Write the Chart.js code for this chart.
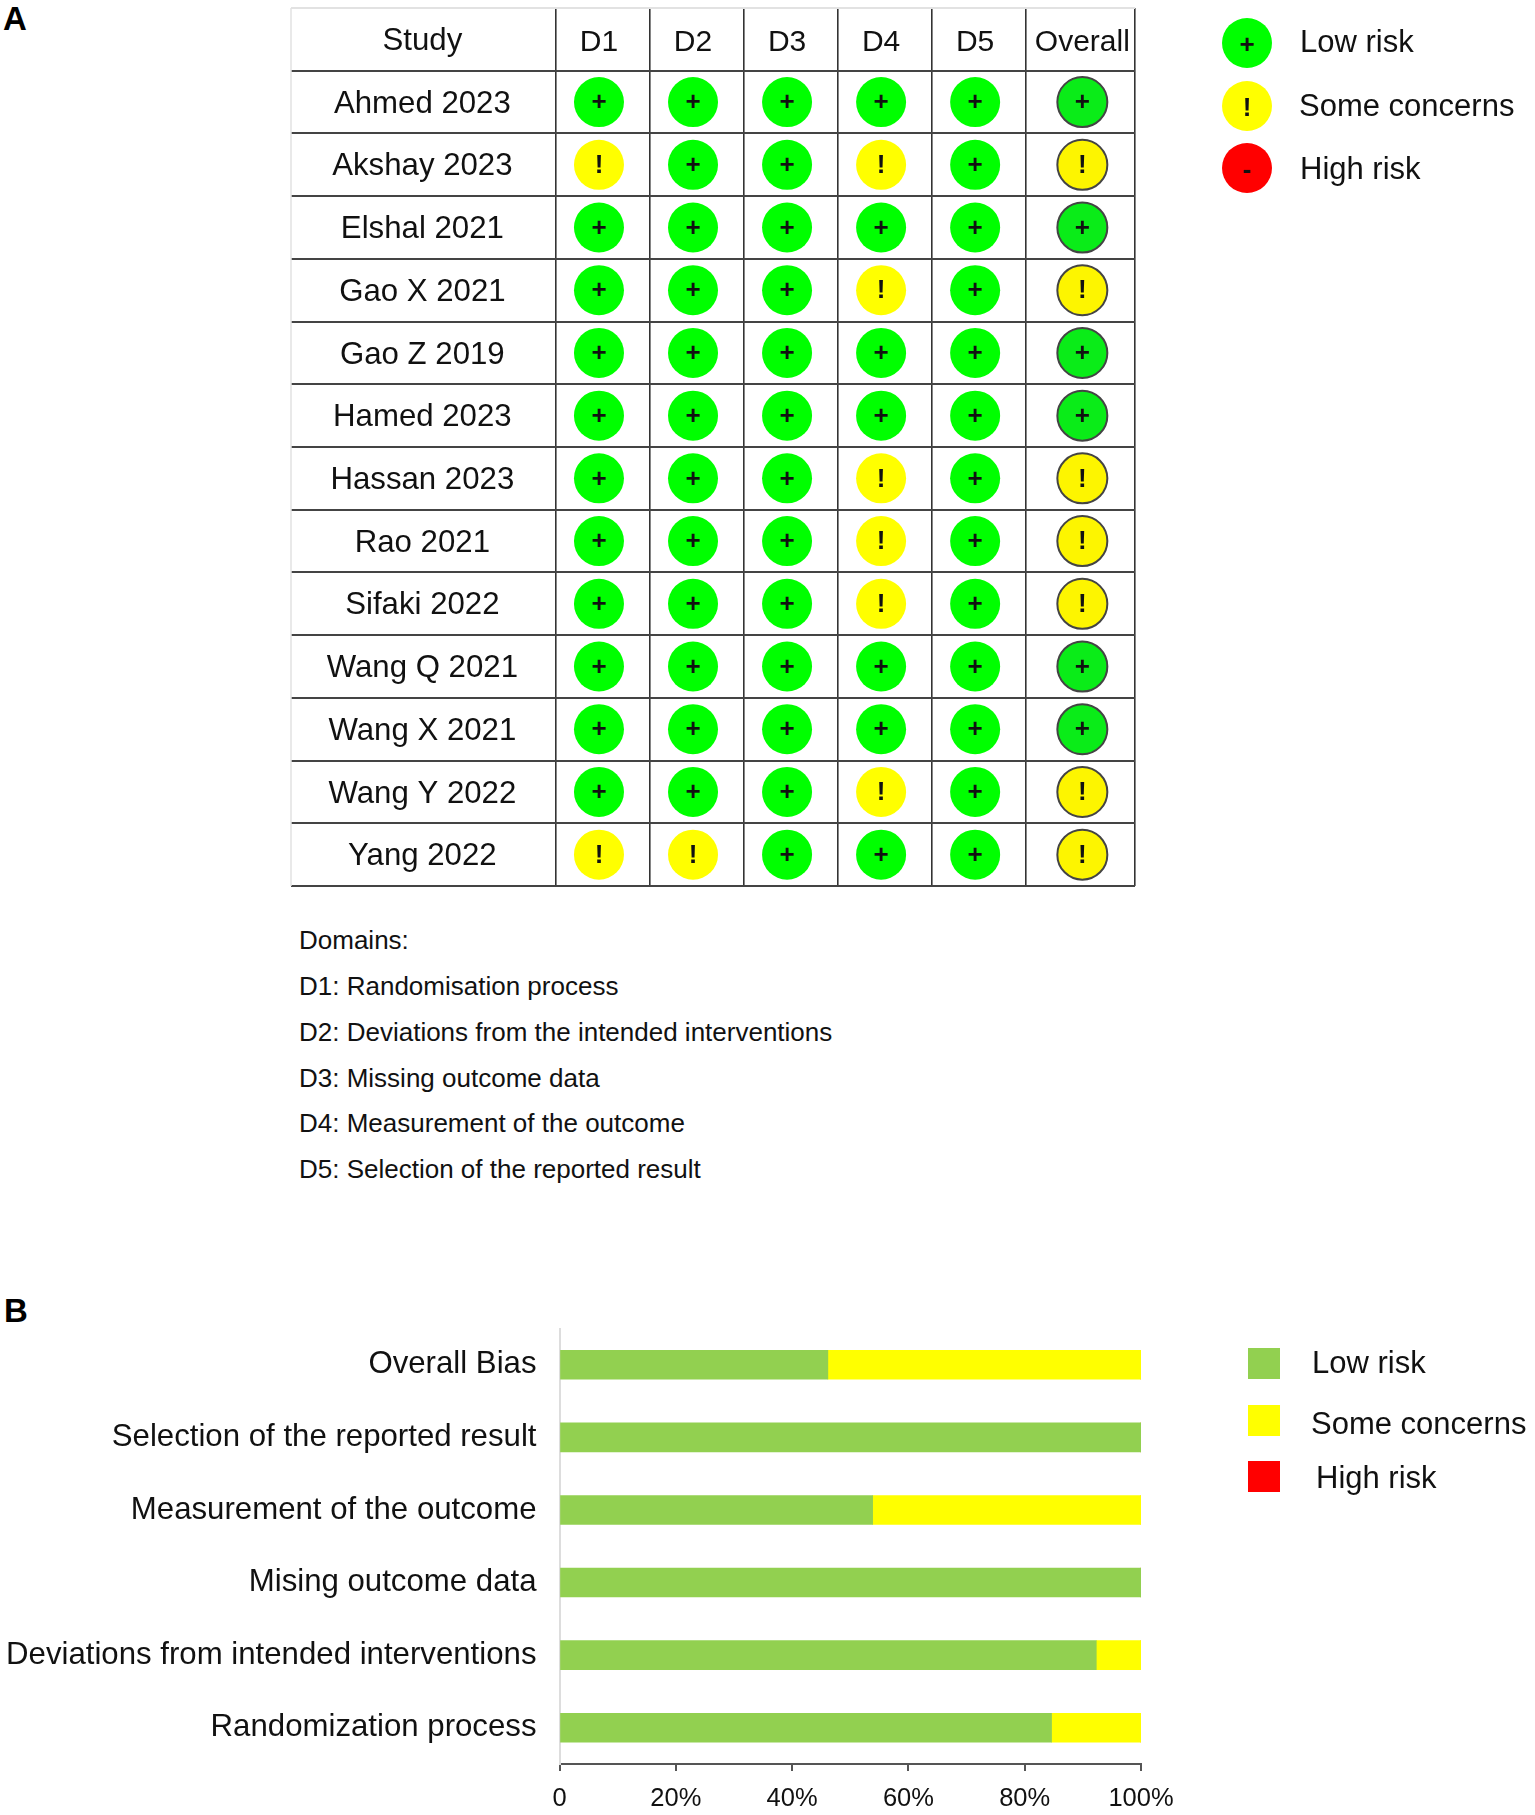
<!DOCTYPE html>
<html>
<head>
<meta charset="utf-8">
<title>Risk of bias</title>
<script src="https://cdn.jsdelivr.net/npm/chart.js@4"></script>
<style>
  html, body { margin: 0; padding: 0; background: #fff; }
  body { position: relative; width: 1535px; height: 1815px; overflow: hidden; font-family: "Liberation Sans", Arial, sans-serif; color: #111; }
  canvas { position: absolute; left: 0; }
  #tableChart { top: 0; }
  #barChart { top: 1290px; }
  .txt { position: absolute; white-space: nowrap; transform: translateY(-50%); line-height: 1; }
  .panel { font-weight: bold; font-size: 33px; color: #000; }
  .domain { font-size: 26px; left: 299px; }
  .legend { font-size: 31px; }
  .dot { position: absolute; width: 50px; height: 50px; border-radius: 50%; left: 1222px; font-weight: bold; font-size: 26px; line-height: 52px; text-align: center; color: #111; }
  .swatch { position: absolute; left: 1248px; width: 32px; height: 31px; }
</style>
</head>
<body>
<div class="txt panel" style="left:3px;top:18px">A</div>
<div class="txt panel" style="left:4px;top:1310px">B</div>

<canvas id="tableChart" width="1535" height="900"></canvas>
<canvas id="barChart" width="1535" height="525"></canvas>

<div class="dot" style="top:18px;background:#00ff00">+</div>
<div class="dot" style="top:81px;background:#ffff00">!</div>
<div class="dot" style="top:143px;background:#ff0000">-</div>
<div class="txt legend" style="left:1300px;top:41px">Low risk</div>
<div class="txt legend" style="left:1299px;top:105px">Some concerns</div>
<div class="txt legend" style="left:1300px;top:168px">High risk</div>

<div class="txt domain" style="top:940px">Domains:</div>
<div class="txt domain" style="top:986px">D1: Randomisation process</div>
<div class="txt domain" style="top:1032px">D2: Deviations from the intended interventions</div>
<div class="txt domain" style="top:1078px">D3: Missing outcome data</div>
<div class="txt domain" style="top:1123px">D4: Measurement of the outcome</div>
<div class="txt domain" style="top:1169px">D5: Selection of the reported result</div>

<div class="swatch" style="top:1348px;background:#92d050"></div>
<div class="swatch" style="top:1405px;background:#ffff00"></div>
<div class="swatch" style="top:1461px;background:#ff0000"></div>
<div class="txt legend" style="left:1312px;top:1362px">Low risk</div>
<div class="txt legend" style="left:1311px;top:1423px">Some concerns</div>
<div class="txt legend" style="left:1316px;top:1477px">High risk</div>

<script>
const studies = ['Ahmed 2023', 'Akshay 2023', 'Elshal 2021', 'Gao X 2021', 'Gao Z 2019', 'Hamed 2023', 'Hassan 2023',
    'Rao 2021', 'Sifaki 2022', 'Wang Q 2021', 'Wang X 2021', 'Wang Y 2022', 'Yang 2022'];
const columns = ['D1', 'D2', 'D3', 'D4', 'D5', 'Overall'];
const d1 = ['+', '!', '+', '+', '+', '+', '+', '+', '+', '+', '+', '+', '!'];
const d2 = ['+', '+', '+', '+', '+', '+', '+', '+', '+', '+', '+', '+', '!'];
const d3 = ['+', '+', '+', '+', '+', '+', '+', '+', '+', '+', '+', '+', '+'];
const d4 = ['+', '!', '+', '!', '+', '+', '!', '!', '!', '+', '+', '!', '+'];
const d5 = ['+', '+', '+', '+', '+', '+', '+', '+', '+', '+', '+', '+', '+'];
const overall = ['+', '!', '+', '!', '+', '+', '!', '!', '!', '+', '+', '!', '!'];
const judgements = [d1, d2, d3, d4, d5, overall];

const biasDomains = ['Overall Bias', 'Selection of the reported result', 'Measurement of the outcome',
    'Mising outcome data', 'Deviations from intended interventions', 'Randomization process'];
const lowRisk = [46.15, 100, 53.85, 100, 92.31, 84.62];
const someConcerns = [53.85, 0, 46.15, 0, 7.69, 15.38];
const highRisk = [0, 0, 0, 0, 0, 0];
const percentLabels = ['0', '20%', '40%', '60%', '80%', '100%'];

// the Overall column is wider than the others, so the x axis is linear
const columnCentres = [1, 2, 3, 4, 5, 6.14];
const columnEdges = [0.543, 1.54, 2.54, 3.54, 4.54, 5.54, 6.70];

const font = 'Liberation Sans';
const fills = { '+': '#00ff00', '!': '#ffff00', '-': '#ff0000' };
const overallFills = { '+': '#0aec18', '!': '#fdf500', '-': '#ff0000' };

const points = [];
judgements.forEach(function (col, c) {
    col.forEach(function (mark, r) {
        points.push({ x: columnCentres[c], y: studies[r], mark: mark, isOverall: c === columns.length - 1 });
    });
});

// + and ! on top of each circle
const markGlyphs = {
    id: 'markGlyphs',
    afterDatasetsDraw: function (chart) {
        const ctx = chart.ctx;
        const meta = chart.getDatasetMeta(0);
        ctx.save();
        ctx.fillStyle = '#111';
        ctx.textAlign = 'center';
        ctx.textBaseline = 'middle';
        ctx.font = 'bold 26px "' + font + '"';
        meta.data.forEach(function (el, i) {
            ctx.fillText(points[i].mark, el.x, el.y + 1);
        });
        ctx.restore();
    },
};

// pale outer edge of the study column
const leftEdge = {
    id: 'leftEdge',
    afterDraw: function (chart) {
        const ctx = chart.ctx;
        ctx.save();
        ctx.strokeStyle = '#e2e2e2';
        ctx.lineWidth = 1.5;
        ctx.beginPath();
        ctx.moveTo(291, chart.chartArea.top);
        ctx.lineTo(291, chart.chartArea.bottom);
        ctx.stroke();
        ctx.restore();
    },
};

new Chart(document.getElementById('tableChart'), {
    type: 'scatter',
    plugins: [markGlyphs, leftEdge],
    data: {
        datasets: [{
            data: points,
            showLine: false,
            pointRadius: 25,
            pointBackgroundColor: points.map(function (p) { return p.isOverall ? overallFills[p.mark] : fills[p.mark]; }),
            pointBorderColor: '#444',
            pointBorderWidth: points.map(function (p) { return p.isOverall ? 2 : 0; }),
        }],
    },
    options: {
        responsive: false,
        animation: false,
        layout: { autoPadding: false, padding: { left: 291, right: 400, top: 8, bottom: 14 } },
        plugins: { legend: { display: false }, tooltip: { enabled: false } },
        scales: {
            x: {
                type: 'linear',
                position: 'top',
                min: columnEdges[0],
                max: columnEdges[columnEdges.length - 1],
                afterBuildTicks: function (scale) {
                    scale.ticks = columnEdges.concat(columnCentres)
                        .sort(function (a, b) { return a - b; })
                        .map(function (v) { return { value: v }; });
                },
                afterFit: function (scale) { scale.height = 0; },
                grid: {
                    drawTicks: false,
                    lineWidth: 1.6,
                    color: function (ctx) {
                        return columnEdges.includes(ctx.tick.value) ? '#333' : 'transparent';
                    },
                },
                border: { display: false },
                ticks: {
                    autoSkip: false,
                    maxRotation: 0,
                    minRotation: 0,
                    mirror: true,
                    padding: 17,
                    color: '#111',
                    font: { family: font, size: 30 },
                    callback: function (value) {
                        const c = columnCentres.indexOf(value);
                        return c >= 0 ? columns[c] : '';
                    },
                },
            },
            y: {
                type: 'category',
                labels: ['Study'].concat(studies),
                offset: true,
                afterFit: function (scale) { scale.width = 265; },
                grid: {
                    offset: true,
                    tickLength: 265,
                    lineWidth: 2,
                    color: function (ctx) { return ctx.index === 0 ? '#e2e2e2' : '#444'; },
                    tickColor: function (ctx) { return ctx.index === 0 ? '#e2e2e2' : '#444'; },
                },
                border: { display: false },
                ticks: {
                    crossAlign: 'center',
                    padding: -227,
                    labelOffset: 2,
                    autoSkip: false,
                    color: '#111',
                    font: { family: font, size: 31.2 },
                },
            },
        },
    },
});

new Chart(document.getElementById('barChart'), {
    type: 'bar',
    data: {
        labels: biasDomains,
        datasets: [
            { label: 'Low risk', data: lowRisk, backgroundColor: '#92d050' },
            { label: 'Some concerns', data: someConcerns, backgroundColor: '#ffff00' },
            { label: 'High risk', data: highRisk, backgroundColor: '#ff0000' },
        ],
    },
    options: {
        indexAxis: 'y',
        responsive: false,
        animation: false,
        datasets: { bar: { barThickness: 29 } },
        layout: { padding: { left: 0, right: 394, top: 38.5, bottom: 0 } },
        plugins: { legend: { display: false }, tooltip: { enabled: false } },
        scales: {
            x: {
                stacked: true,
                min: 0,
                max: 100,
                afterFit: function (scale) { scale.height = 51; },
                grid: { drawOnChartArea: false, tickLength: 7, tickColor: '#555', lineWidth: 2 },
                border: { color: '#555', width: 2 },
                ticks: {
                    stepSize: 20,
                    padding: 13,
                    maxRotation: 0,
                    color: '#111',
                    font: { family: font, size: 25.5 },
                    callback: function (value, index) { return percentLabels[index]; },
                },
            },
            y: {
                stacked: true,
                afterFit: function (scale) { scale.width = 559.5; },
                grid: { display: false },
                border: { color: '#ddd', width: 2 },
                ticks: {
                    padding: 15,
                    autoSkip: false,
                    color: '#111',
                    font: { family: font, size: 31.2 },
                },
            },
        },
    },
});
</script>
</body>
</html>
